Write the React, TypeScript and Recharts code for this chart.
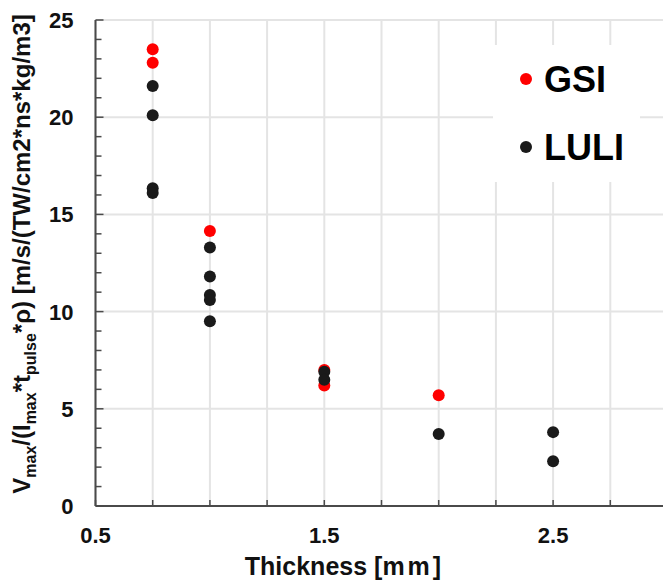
import React from 'react';
import {
  ScatterChart, Scatter, XAxis, YAxis, CartesianGrid, ReferenceLine, Legend,
} from 'recharts';

// thickness [mm] vs normalised velocity
const gsiThickness = [0.75, 0.75, 1.0, 1.5, 1.5, 2.0];
const gsiValue = [23.5, 22.8, 14.15, 7.0, 6.2, 5.7];

const luliThickness = [0.75, 0.75, 0.75, 0.75, 1.0, 1.0, 1.0, 1.0, 1.0, 1.5, 1.5, 2.0, 2.5, 2.5];
const luliValue = [21.6, 20.1, 16.35, 16.1, 13.3, 11.8, 10.85, 10.6, 9.5, 6.9, 6.5, 3.7, 3.8, 2.3];

const xTicks = [0.5, 0.75, 1.0, 1.25, 1.5, 1.75, 2.0, 2.25, 2.5, 2.75, 3.0];
const xLabels = [0.5, 1.5, 2.5];
const yTicks = [0, 1, 2, 3, 4, 5, 6, 7, 8, 9, 10, 11, 12, 13, 14, 15, 16, 17, 18, 19, 20, 21, 22, 23, 24, 25];
const yLabels = [0, 5, 10, 15, 20, 25];

const gsiData = gsiThickness.map((x, i) => ({ x, y: gsiValue[i] }));
const luliData = luliThickness.map((x, i) => ({ x, y: luliValue[i] }));

const FONT = '"Liberation Sans", Arial, sans-serif';
const AXIS = '#4a4a4a';
const GRID = '#e4e4e4';

function XTick({ x, y, payload }: any) {
  const show = xLabels.includes(payload.value);
  return (
    <g>
      <line x1={x} x2={x} y1={y} y2={y - 6} stroke={AXIS} strokeWidth={1.5} />
      {show && (
        <text x={x} y={y + 37} textAnchor="middle" fontFamily={FONT} fontWeight="bold" fontSize={22} fill="#111">
          {payload.value.toFixed(1)}
        </text>
      )}
    </g>
  );
}

function YTick({ x, y, payload }: any) {
  const show = yLabels.includes(payload.value);
  return (
    <g>
      <line x1={x} x2={x + (show ? 8 : 6)} y1={y} y2={y} stroke={AXIS} strokeWidth={1.5} />
      {show && (
        <text x={x - 22} y={y + 8} textAnchor="end" fontFamily={FONT} fontWeight="bold" fontSize={22} fill="#111">
          {payload.value}
        </text>
      )}
    </g>
  );
}

function YTitle() {
  const sub = { fontSize: 16 };
  return (
    <text
      transform="translate(30, 254) rotate(-90)"
      textAnchor="middle"
      fontFamily={FONT}
      fontWeight="bold"
      fontSize={24}
      fill="#111"
    >
      <tspan>V</tspan>
      <tspan dy={6} {...sub}>max</tspan>
      <tspan dy={-6}>/(I</tspan>
      <tspan dy={6} {...sub}>max</tspan>
      <tspan dy={-6}>*t</tspan>
      <tspan dy={6} {...sub}>pulse</tspan>
      <tspan dy={-6}>*ρ) [m/s/(TW/cm2*ns*kg/m3]</tspan>
    </text>
  );
}

function XTitle() {
  return (
    <text x={343} y={575} textAnchor="middle" fontFamily={FONT} fontWeight="bold" fontSize={25} fill="#111">
      Thickness [<tspan letterSpacing={3}>mm</tspan>]
    </text>
  );
}

function LegendBox({ payload }: any) {
  const items = payload && payload.length ? payload : [
    { value: 'GSI', color: '#ff0000' },
    { value: 'LULI', color: '#1a1a1a' },
  ];
  return (
    <svg width={147} height={137} style={{ display: 'block' }}>
      {items.map((it: any, i: number) => (
        <g key={it.value}>
          <circle cx={33} cy={34 + i * 68} r={6} fill={it.color} />
          <text x={51} y={46.5 + i * 68.5} fontFamily={FONT} fontWeight="bold" fontSize={36} fill="#000">
            {it.value}
          </text>
        </g>
      ))}
    </svg>
  );
}

const dot = (fill: string) => (p: any) => <circle cx={p.cx} cy={p.cy} r={6} fill={fill} />;

export default function App() {
  return (
    <div style={{ position: 'absolute', left: 0, top: 0, width: 663, height: 581, overflow: 'hidden', background: '#fff' }}>
      <ScatterChart width={680} height={581} margin={{ top: 20, right: 12.5, bottom: 0, left: 0 }}>
        <CartesianGrid horizontal={false} stroke={GRID} strokeWidth={2} />
        {yLabels.slice(1).map((v) => (
          <ReferenceLine key={v} y={v} stroke={GRID} strokeWidth={2} />
        ))}
        <XAxis
          type="number"
          dataKey="x"
          domain={[0.5, 3]}
          ticks={xTicks}
          interval={0}
          allowDataOverflow
          height={75}
          tickSize={0}
          tickMargin={0}
          tickLine={false}
          tick={(p: any) => <XTick {...p} />}
          axisLine={{ stroke: AXIS, strokeWidth: 2 }}
          label={{ content: () => <XTitle /> }}
        />
        <YAxis
          type="number"
          dataKey="y"
          domain={[0, 25]}
          ticks={yTicks}
          interval={0}
          allowDataOverflow
          width={95.5}
          tickSize={0}
          tickMargin={0}
          tickLine={false}
          tick={(p: any) => <YTick {...p} />}
          axisLine={{ stroke: AXIS, strokeWidth: 2 }}
          label={{ content: () => <YTitle /> }}
        />
        <Scatter name="GSI" data={gsiData} fill="#ff0000" shape={dot('#ff0000')} isAnimationActive={false} />
        <Scatter name="LULI" data={luliData} fill="#1a1a1a" shape={dot('#1a1a1a')} isAnimationActive={false} />
        <Legend
          layout="vertical"
          align="center"
          verticalAlign="middle"
          wrapperStyle={{ left: 493, top: 45, width: 147, height: 137, background: '#fff' }}
          content={(props: any) => <LegendBox {...props} />}
        />
      </ScatterChart>
    </div>
  );
}
